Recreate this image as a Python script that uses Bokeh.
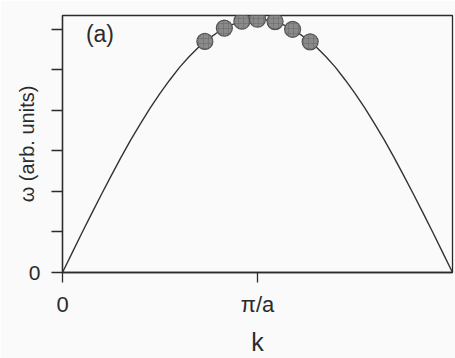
from bokeh.plotting import figure
from bokeh.models import Range1d, FixedTicker, Label
from bokeh.embed import file_html
from bokeh.resources import INLINE

# Dispersion curve omega(k), k in units of pi/a, omega in arbitrary units
k_curve = [0.00, 0.05, 0.10, 0.15, 0.20, 0.25, 0.30, 0.35, 0.40, 0.45, 0.50,
           0.55, 0.60, 0.65, 0.70, 0.75, 0.80, 0.85, 0.90, 0.95, 1.00,
           1.05, 1.10, 1.15, 1.20, 1.25, 1.30, 1.35, 1.40, 1.45, 1.50,
           1.55, 1.60, 1.65, 1.70, 1.75, 1.80, 1.85, 1.90, 1.95, 2.00]
w_curve = [0.00, 0.49, 0.98, 1.46, 1.93, 2.39, 2.84, 3.27, 3.67, 4.06, 4.42,
           4.75, 5.06, 5.33, 5.57, 5.77, 5.94, 6.08, 6.17, 6.23, 6.25,
           6.23, 6.17, 6.08, 5.94, 5.77, 5.57, 5.33, 5.06, 4.75, 4.42,
           4.06, 3.67, 3.27, 2.84, 2.39, 1.93, 1.46, 0.98, 0.49, 0.00]

# Measured points near the zone boundary
k_pts = [0.73, 0.83, 0.92, 1.00, 1.09, 1.18, 1.27]
w_pts = [5.70, 6.03, 6.20, 6.25, 6.19, 6.00, 5.69]

y_ticks = [0, 1, 2, 3, 4, 5, 6]
x_ticks = [0, 1]
x_tick_labels = {0: "0", 1: "π/a"}

ink = "#2b2b2b"
font = "Liberation Sans"

p = figure(width=455, height=358, output_backend="svg", toolbar_location=None,
           x_range=Range1d(0, 2), y_range=Range1d(0, 6.34),
           min_border_left=62, min_border_right=3,
           min_border_top=15, min_border_bottom=84)

p.background_fill_color = "#fafafa"
p.border_fill_color = "#fafafa"
p.outline_line_color = ink
p.outline_line_width = 1.3
p.grid.visible = False

p.line(k_curve, w_curve, line_color="#333333", line_width=1.4)
p.scatter(k_pts, w_pts, size=16, fill_color="#8a8a8a", line_color="#555555",
          line_width=1.2, hatch_pattern="cross", hatch_color="#6a6a6a",
          hatch_scale=5, hatch_alpha=0.55)

# Axes
xa = p.xaxis[0]
xa.ticker = FixedTicker(ticks=x_ticks)
xa.major_label_overrides = x_tick_labels
xa.minor_tick_line_color = None
xa.major_tick_in = 0
xa.major_tick_out = 10
xa.major_tick_line_color = ink
xa.major_tick_line_width = 1.3
xa.axis_line_color = ink
xa.axis_line_width = 1.3
xa.major_label_standoff = 9
xa.major_label_text_font = font
xa.major_label_text_font_size = "22px"
xa.major_label_text_color = ink
xa.axis_label = "k"
xa.axis_label_text_font = font
xa.axis_label_text_font_style = "normal"
xa.axis_label_text_font_size = "25px"
xa.axis_label_text_color = ink
xa.axis_label_standoff = 8

ya = p.yaxis[0]
ya.ticker = FixedTicker(ticks=y_ticks)
ya.major_label_overrides = {t: ("0" if t == 0 else "") for t in y_ticks}
ya.minor_tick_line_color = None
ya.major_tick_in = 0
ya.major_tick_out = 11
ya.major_tick_line_color = ink
ya.major_tick_line_width = 1.3
ya.axis_line_color = ink
ya.axis_line_width = 1.3
ya.major_label_standoff = 11
ya.major_label_text_font = font
ya.major_label_text_font_size = "21px"
ya.major_label_text_color = ink
ya.axis_label = "ω (arb. units)"
ya.axis_label_text_font = font
ya.axis_label_text_font_style = "normal"
ya.axis_label_text_font_size = "20px"
ya.axis_label_text_color = ink
ya.axis_label_standoff = -12

p.add_layout(Label(x=0.12, y=6.2, text="(a)", text_font=font,
                   text_font_size="23px", text_color=ink,
                   text_baseline="top", text_align="left"))

open("out.html", "w").write(file_html(p, INLINE))
